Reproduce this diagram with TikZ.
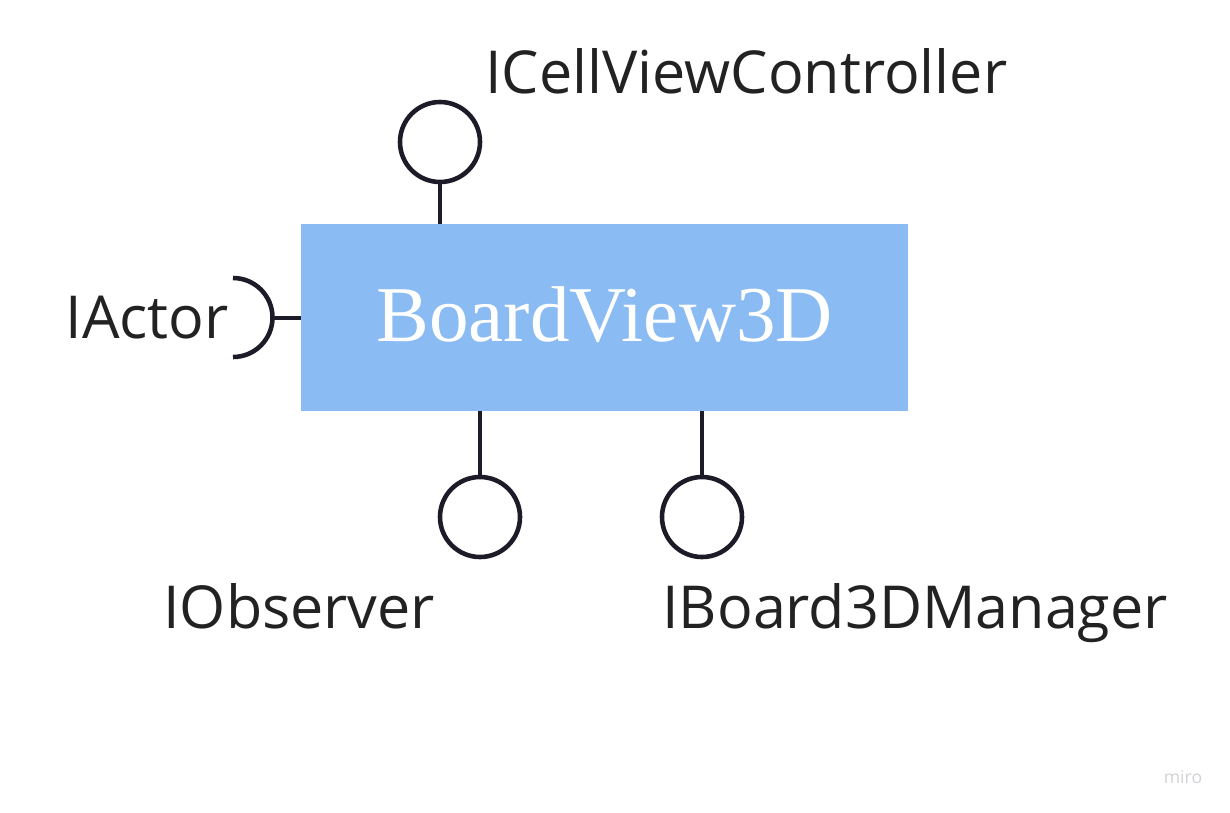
\documentclass[tikz,border=0pt]{standalone}
\usepackage{fontspec}
\setmainfont{Liberation Serif}
\newfontfamily\labelfont{Open Sans}
\usepackage{tikz}
\usetikzlibrary{positioning}
\definecolor{boxblue}{HTML}{8ABBF3}
\definecolor{inkdark}{HTML}{1C1B27}
\definecolor{textdark}{HTML}{222222}
\definecolor{watermark}{HTML}{D2D2D6}

\begin{document}
\begin{tikzpicture}[
    component/.style={fill=boxblue, draw=none, minimum width=12.14cm,
        minimum height=3.74cm, inner sep=0pt, text=white,
        font=\fontsize{45}{50}\selectfont},
    lollipop/.style={circle, draw=inkdark, line width=2.6pt,
        minimum size=1.6cm, inner sep=0pt},
    link/.style={draw=inkdark, line width=2.6pt},
    iface/.style={text=textdark, inner sep=0pt,
        font=\labelfont\fontsize{33.7}{40}\selectfont}
]
\useasboundingbox[fill=white] (0,0) rectangle (24.6,-16.24);

% Component
\node[component] (board) at (12.09,-6.35) {\raisebox{0.14cm}{BoardView3D}};

% Provided interfaces
\node[lollipop] (cellctl) at (8.8,-2.84) {};
\node[lollipop] (observer) at (9.6,-10.34) {};
\node[lollipop] (manager) at (14.04,-10.34) {};

% Required interface (socket)
\coordinate (socket) at (5.42,-6.36);
\draw[link] (4.66,-5.56) arc[start angle=90, end angle=-90, radius=0.79];

% Labels
\node[iface, anchor=base west] (cellctllabel) at (9.7,-1.86) {ICellViewController};
\node[iface, anchor=base east] (actorlabel) at (4.58,-6.76) {IActor};
\node[iface, anchor=base west] (observerlabel) at (3.26,-12.56) {IObserver};
\node[iface, anchor=base west] (managerlabel) at (13.24,-12.56) {IBoard3DManager};

% Watermark
\node[text=watermark, font=\labelfont\fontsize{10}{12}\selectfont] (miro) at (23.66,-15.54) {miro};

% Connectors
\draw[link] (board.north -| cellctl) -- (cellctl.south);
\draw[link] (board.south -| observer) -- (observer.north);
\draw[link] (board.south -| manager) -- (manager.north);
\draw[link] (board.west |- socket) -- (socket);

\end{tikzpicture}
\end{document}
